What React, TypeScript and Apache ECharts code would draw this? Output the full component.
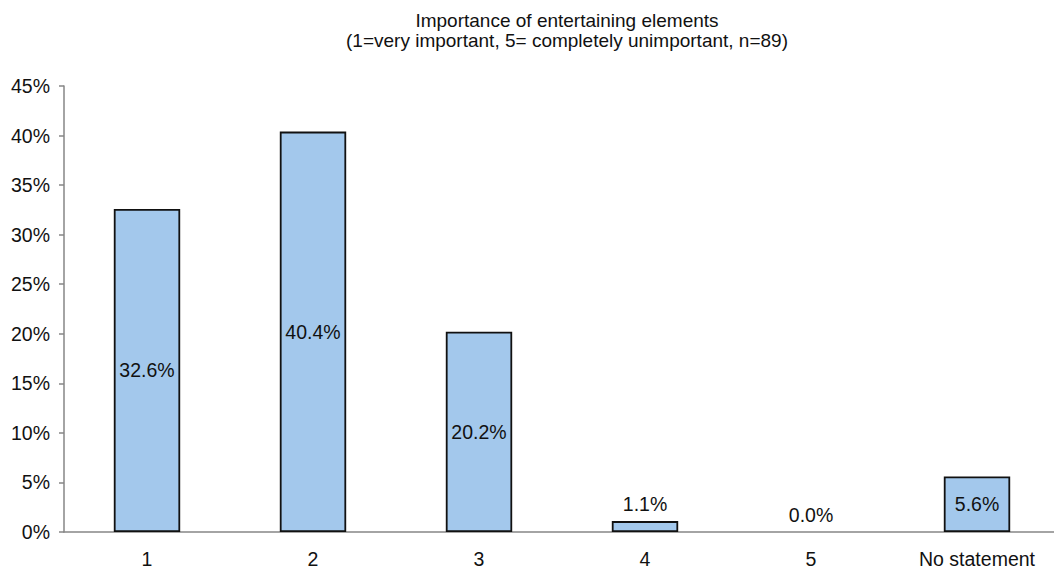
import React, { useEffect, useRef } from "react";
import * as echarts from "echarts";

const titleLine1 = "Importance of entertaining elements";
const titleLine2 = "(1=very important, 5= completely unimportant, n=89)";
const categories = ["1", "2", "3", "4", "5", "No statement"];
const shares = [32.6, 40.4, 20.2, 1.1, 0.0, 5.6];
const yMin = 0;
const yMax = 45;
const yStep = 5;

const FONT = "'Liberation Sans', Arial, sans-serif";
const TEXT = "#111111";

export default function App() {
  const ref = useRef<HTMLDivElement>(null);
  useEffect(() => {
    if (!ref.current) return;
    const chart = echarts.init(ref.current, null, { renderer: "svg" });
    const data = shares.map((v) => ({
      value: v,
      label: v < 3 ? { position: "top", distance: 7 } : { position: "inside" },
      itemStyle: v === 0 ? { borderWidth: 0 } : {},
    }));
    chart.setOption({
      animation: false,
      backgroundColor: "#ffffff",
      textStyle: { fontFamily: FONT },
      title: {
        text: titleLine1 + "\n" + titleLine2,
        left: 562,
        top: 6,
        textAlign: "center",
        textStyle: {
          fontFamily: FONT,
          fontSize: 19,
          fontWeight: "normal",
          color: TEXT,
          lineHeight: 19.5,
        },
      },
      grid: { left: 64, top: 86, right: 0, bottom: 38, containLabel: false },
      xAxis: {
        type: "category",
        data: categories,
        axisLine: { show: true, lineStyle: { color: "#868686", width: 1.5 } },
        axisTick: { show: false },
        axisLabel: { color: TEXT, fontSize: 19.5, fontFamily: FONT, margin: 17, interval: 0 },
        splitLine: { show: false },
      },
      yAxis: {
        type: "value",
        min: yMin,
        max: yMax,
        interval: yStep,
        axisLine: { show: true, lineStyle: { color: "#868686", width: 1.5 } },
        axisTick: { show: true, length: 5, inside: false, lineStyle: { color: "#868686", width: 1.5 } },
        axisLabel: { color: TEXT, fontSize: 19.5, fontFamily: FONT, margin: 14, formatter: "{value}%" },
        splitLine: { show: false },
      },
      series: [
        {
          type: "bar",
          data,
          barWidth: "40%",
          itemStyle: { color: "#A3C8EC", borderColor: "#111111", borderWidth: 1.8 },
          label: {
            show: true,
            color: TEXT,
            fontSize: 19.5,
            fontFamily: FONT,
            formatter: (p: any) => Number(p.value).toFixed(1) + "%",
          },
        },
      ],
    });
    return () => chart.dispose();
  }, []);
  return (
    <div
      ref={ref}
      style={{ position: "fixed", left: 0, top: 0, width: 1060, height: 570, background: "#fff" }}
    />
  );
}
